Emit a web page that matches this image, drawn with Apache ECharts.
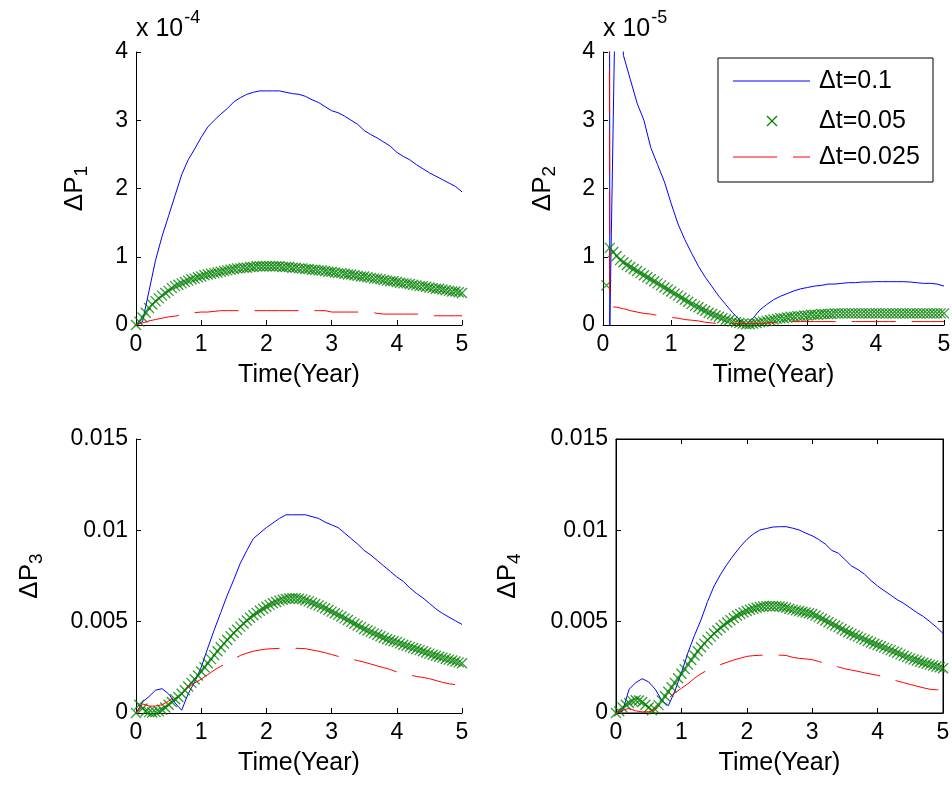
<!DOCTYPE html>
<html>
<head>
<meta charset="utf-8">
<script src="https://cdn.jsdelivr.net/npm/echarts@6/dist/echarts.min.js"></script>
<style>
  html, body { margin: 0; padding: 0; background: #fff; }
  #chart { width: 952px; height: 785px; }
</style>
</head>
<body>
<div id="chart"></div>
<script>
// Series names, colours and shared axis text
const seriesNames = ['\u0394t=0.1', '\u0394t=0.05', '\u0394t=0.025'];
const seriesColors = ['#0000ff', '#008000', '#ff0000'];
const xAxisTitle = 'Time(Year)';
const xTickValues = [0, 1, 2, 3, 4, 5];
const panelSubscripts = ['1', '2', '3', '4'];
const panelExponents = ['-4', '-5', null, null];

// Sampling steps (years) of each series
const stepBlue = 0.1;
const stepGreen = 0.05;
const stepRed = 0.1;

// dP1, units of 1e-4
const p1Blue = [0, 0.05, 0.50, 0.95, 1.30, 1.60, 1.90, 2.20, 2.42, 2.58,
  2.75, 2.90, 3.00, 3.09, 3.17, 3.27, 3.33, 3.38, 3.41, 3.43,
  3.43, 3.43, 3.43, 3.41, 3.39, 3.38, 3.35, 3.30, 3.26, 3.20,
  3.14, 3.11, 3.06, 3.00, 2.94, 2.85, 2.79, 2.74, 2.68, 2.62,
  2.53, 2.47, 2.42, 2.35, 2.29, 2.23, 2.18, 2.13, 2.08, 2.03, 1.95];
const p1Green = [0, 0.05, 0.11, 0.18, 0.25, 0.30, 0.35, 0.39, 0.43, 0.47,
  0.50, 0.54, 0.57, 0.59, 0.61, 0.63, 0.65, 0.67, 0.68, 0.70,
  0.71, 0.73, 0.74, 0.75, 0.76, 0.77, 0.78, 0.79, 0.80, 0.81,
  0.82, 0.83, 0.83, 0.84, 0.84, 0.85, 0.85, 0.86, 0.86, 0.86,
  0.86, 0.86, 0.86, 0.86, 0.86, 0.85, 0.85, 0.85, 0.84, 0.84,
  0.83, 0.83, 0.82, 0.82, 0.81, 0.81, 0.80, 0.80, 0.79, 0.78,
  0.78, 0.77, 0.76, 0.76, 0.75, 0.74, 0.74, 0.73, 0.72, 0.71,
  0.71, 0.70, 0.69, 0.68, 0.68, 0.67, 0.66, 0.65, 0.64, 0.64,
  0.63, 0.62, 0.61, 0.61, 0.60, 0.59, 0.58, 0.57, 0.57, 0.56,
  0.55, 0.54, 0.53, 0.53, 0.52, 0.51, 0.50, 0.49, 0.49, 0.48, 0.47];
const p1Red = [0, 0.03, 0.06, 0.08, 0.10, 0.12, 0.13, 0.15, 0.16, 0.18,
  0.19, 0.19, 0.20, 0.21, 0.21, 0.21, 0.21, 0.21, 0.21, 0.21,
  0.21, 0.21, 0.21, 0.21, 0.21, 0.21, 0.21, 0.21, 0.21, 0.21,
  0.19, 0.19, 0.19, 0.19, 0.19, 0.19, 0.19, 0.17, 0.16, 0.16,
  0.16, 0.16, 0.16, 0.16, 0.16, 0.135, 0.135, 0.135, 0.135, 0.135, 0.135];

// dP2, units of 1e-5 (the first samples lie far above the axis range)
const p2Blue = [150, 0, 6.0, 3.95, 3.6, 3.25, 3.0, 2.6, 2.35, 2.1,
  1.78, 1.48, 1.25, 1.05, 0.86, 0.70, 0.56, 0.42, 0.30, 0.18,
  0.08, 0.0, 0.10, 0.22, 0.30, 0.37, 0.42, 0.46, 0.50, 0.53,
  0.55, 0.57, 0.58, 0.60, 0.60, 0.61, 0.62, 0.62, 0.63, 0.63,
  0.635, 0.635, 0.635, 0.635, 0.635, 0.63, 0.62, 0.61, 0.61, 0.60, 0.57];
const p2Green = [80, 0.58, 1.13, 1.07, 1.01, 0.95, 0.92, 0.88, 0.85, 0.82,
  0.79, 0.76, 0.73, 0.70, 0.67, 0.64, 0.61, 0.58, 0.55, 0.52,
  0.49, 0.46, 0.43, 0.40, 0.37, 0.34, 0.31, 0.28, 0.26, 0.23,
  0.21, 0.18, 0.16, 0.14, 0.12, 0.10, 0.08, 0.07, 0.05, 0.04,
  0.03, 0.02, 0.01, 0.01, 0.02, 0.03, 0.04, 0.05, 0.06, 0.07,
  0.08, 0.09, 0.10, 0.10, 0.11, 0.12, 0.12, 0.13, 0.13, 0.14,
  0.14, 0.15, 0.15, 0.15, 0.16, 0.16, 0.16, 0.16, 0.17, 0.17,
  0.17, 0.17, 0.17, 0.17, 0.17, 0.17, 0.17, 0.17, 0.17, 0.17,
  0.17, 0.17, 0.17, 0.17, 0.17, 0.17, 0.17, 0.17, 0.17, 0.17,
  0.17, 0.17, 0.17, 0.17, 0.17, 0.17, 0.17, 0.17, 0.17, 0.17, 0.17];
const p2Red = [60, 0.27, 0.26, 0.24, 0.21, 0.19, 0.17, 0.16, 0.14, 0.12,
  0.11, 0.10, 0.08, 0.07, 0.06, 0.04, 0.03, 0.02, 0.02, 0.02,
  0.02, 0.02, 0.02, 0.02, 0.03, 0.035, 0.04, 0.045, 0.05, 0.05,
  0.05, 0.05, 0.05, 0.05, 0.05, 0.05, 0.05, 0.05, 0.05, 0.05,
  0.05, 0.05, 0.05, 0.05, 0.05, 0.05, 0.05, 0.05, 0.05, 0.05, 0.05];

// dP3, units of 1e-3
const p3Blue = [0, 0.6, 0.9, 1.25, 1.33, 1.05, 0.55, 0.15, 1.05, 1.70,
  2.50, 3.55, 4.55, 5.50, 6.45, 7.30, 8.20, 8.90, 9.55, 9.85,
  10.15, 10.40, 10.65, 10.85, 10.85, 10.85, 10.85, 10.75, 10.65, 10.45,
  10.30, 10.15, 9.85, 9.55, 9.25, 8.90, 8.65, 8.35, 8.05, 7.75,
  7.45, 7.20, 6.85, 6.55, 6.30, 6.00, 5.70, 5.45, 5.25, 5.05, 4.85];
const p3Green = [0, 0.45, 0.25, 0.10, 0.05, 0.03, 0.05, 0.10, 0.18, 0.30,
  0.45, 0.60, 0.75, 0.88, 1.05, 1.25, 1.45, 1.65, 1.85, 2.05,
  2.27, 2.50, 2.72, 2.95, 3.17, 3.38, 3.60, 3.80, 4.00, 4.20,
  4.38, 4.56, 4.73, 4.90, 5.06, 5.21, 5.35, 5.48, 5.60, 5.71,
  5.82, 5.92, 6.01, 6.08, 6.15, 6.20, 6.24, 6.27, 6.28, 6.28,
  6.25, 6.22, 6.17, 6.11, 6.04, 5.97, 5.89, 5.81, 5.73, 5.64,
  5.55, 5.46, 5.37, 5.28, 5.18, 5.09, 4.99, 4.89, 4.79, 4.70,
  4.60, 4.52, 4.44, 4.36, 4.28, 4.20, 4.12, 4.04, 3.98, 3.93,
  3.88, 3.81, 3.74, 3.68, 3.62, 3.56, 3.50, 3.44, 3.38, 3.31,
  3.25, 3.19, 3.13, 3.08, 3.03, 2.97, 2.92, 2.87, 2.82, 2.77, 2.72];
const p3Red = [0, 0.5, 0.38, 0.38, 0.45, 0.65, 0.9, 1.15, 1.4, 1.65,
  1.85, 2.1, 2.35, 2.55, 2.75, 2.95, 3.15, 3.28, 3.38, 3.45,
  3.5, 3.52, 3.54, 3.54, 3.54, 3.54, 3.52, 3.45, 3.38, 3.3,
  3.2, 3.1, 3.02, 2.95, 2.87, 2.78, 2.68, 2.58, 2.48, 2.38,
  2.25, 2.15, 2.08, 2.0, 1.95, 1.88, 1.78, 1.68, 1.6, 1.55, 1.48];

// dP4, units of 1e-3
const p4Blue = [0, 0.1, 1.3, 1.65, 1.88, 1.7, 1.3, 0.7, 0.4, 1.2,
  2.2, 3.3, 4.25, 5.1, 6.1, 6.95, 7.6, 8.15, 8.65, 9.1,
  9.5, 9.8, 10.02, 10.1, 10.18, 10.2, 10.2, 10.12, 10.02, 9.85,
  9.7, 9.5, 9.25, 8.9, 8.75, 8.4, 8.05, 7.85, 7.6, 7.25,
  6.95, 6.7, 6.45, 6.2, 6.0, 5.75, 5.5, 5.28, 5.0, 4.7, 4.36];
const p4Green = [0, 0.1, 0.3, 0.45, 0.55, 0.65, 0.7, 0.68, 0.6, 0.45,
  0.3, 0.15, 0.2, 0.43, 0.68, 0.92, 1.16, 1.41, 1.65, 1.9,
  2.15, 2.4, 2.65, 2.9, 3.15, 3.38, 3.6, 3.8, 4.0, 4.18,
  4.35, 4.52, 4.67, 4.82, 4.95, 5.08, 5.2, 5.32, 5.42, 5.5,
  5.58, 5.65, 5.71, 5.76, 5.8, 5.83, 5.85, 5.86, 5.86, 5.85,
  5.83, 5.8, 5.76, 5.71, 5.66, 5.62, 5.58, 5.54, 5.5, 5.46,
  5.42, 5.34, 5.25, 5.16, 5.06, 4.97, 4.88, 4.79, 4.7, 4.6,
  4.5, 4.42, 4.34, 4.26, 4.18, 4.1, 4.02, 3.94, 3.86, 3.79,
  3.72, 3.65, 3.58, 3.51, 3.44, 3.37, 3.3, 3.21, 3.13, 3.06,
  2.99, 2.93, 2.87, 2.81, 2.75, 2.7, 2.65, 2.6, 2.55, 2.5, 2.45];
const p4Red = [0, 0.15, 0.25, 0.12, 0.06, 0.07, 0.2, 0.45, 0.8, 1.1,
  1.35, 1.6, 1.9, 2.15, 2.35, 2.5, 2.65, 2.78, 2.9, 3.0,
  3.1, 3.14, 3.16, 3.17, 3.17, 3.17, 3.15, 3.05, 2.99, 2.96,
  2.92, 2.82, 2.72, 2.62, 2.52, 2.42, 2.35, 2.28, 2.2, 2.13,
  2.06, 1.98, 1.88, 1.75, 1.66, 1.56, 1.47, 1.38, 1.3, 1.27, 1.26];

const FONT = 'Liberation Sans, Arial, Helvetica, sans-serif';

// Panel layout (pixels) and y-axis scale of each subplot
const panels = [
  { left: 136, top: 52, width: 326, height: 273, yMax: 4, yStep: 1, scale: 1, nameGap: 45, box: false,
    data: [p1Blue, p1Green, p1Red] },
  { left: 603, top: 52, width: 341, height: 273, yMax: 4, yStep: 1, scale: 1, nameGap: 44, box: false,
    data: [p2Blue, p2Green, p2Red] },
  { left: 136, top: 439, width: 326, height: 274, yMax: 15, yStep: 5, scale: 1000, nameGap: 90, box: false,
    data: [p3Blue, p3Green, p3Red] },
  { left: 616, top: 439, width: 327, height: 274, yMax: 15, yStep: 5, scale: 1000, nameGap: 92, box: true,
    data: [p4Blue, p4Green, p4Red] }
];

function toPairs(step, values) {
  return values.map((v, i) => [Math.round(i * step * 1000) / 1000, v]);
}

const grids = [], xAxes = [], yAxes = [], series = [];
const tickStyle = { inside: true, length: 5, lineStyle: { color: '#000', width: 1 } };
const lineStyleAxis = { onZero: false, lineStyle: { color: '#000', width: 1 } };

panels.forEach((p, i) => {
  grids.push({
    left: p.left, top: p.top, width: p.width, height: p.height,
    show: p.box, borderColor: '#000', borderWidth: 1, backgroundColor: 'transparent',
    outerBoundsMode: 'none', containLabel: false
  });
  xAxes.push({
    gridIndex: i, type: 'value', min: 0, max: 5, interval: 1,
    axisLine: lineStyleAxis, axisTick: tickStyle, splitLine: { show: false },
    axisLabel: { color: '#000', fontFamily: FONT, fontSize: 23, margin: 8,
      formatter: v => (xTickValues.indexOf(v) >= 0 ? String(v) : '') },
    name: xAxisTitle, nameLocation: 'middle', nameGap: 38, nameMoveOverlap: false,
    nameTextStyle: { color: '#000', fontFamily: FONT, fontSize: 25 }
  });
  yAxes.push({
    gridIndex: i, type: 'value', min: 0, max: p.yMax, interval: p.yStep,
    axisLine: lineStyleAxis, axisTick: tickStyle, splitLine: { show: false },
    axisLabel: { color: '#000', fontFamily: FONT, fontSize: 23, margin: 8,
      formatter: v => String(v / p.scale) },
    name: '{a|\u0394P}{b|' + panelSubscripts[i] + '}',
    nameLocation: 'middle', nameRotate: 90, nameGap: p.nameGap, nameMoveOverlap: false,
    nameTextStyle: {
      color: '#000',
      rich: {
        a: { fontFamily: FONT, fontSize: 26, color: '#000' },
        b: { fontFamily: FONT, fontSize: 19, color: '#000', padding: [14, 0, 0, 0] }
      }
    }
  });
  const steps = [stepBlue, stepGreen, stepRed];
  p.data.forEach((vals, k) => {
    const common = {
      name: seriesNames[k], xAxisIndex: i, yAxisIndex: i, clip: true,
      data: toPairs(steps[k], vals), silent: true, animation: false, z: 2 + k
    };
    if (k === 1) {
      series.push(Object.assign(common, {
        type: 'scatter',
        symbol: 'path://M0,0L10,10M0,10L10,0',
        symbolSize: 10,
        itemStyle: { color: 'transparent', borderColor: seriesColors[k], borderWidth: 1.3 }
      }));
    } else {
      series.push(Object.assign(common, {
        type: 'line', symbol: 'none', showSymbol: false,
        lineStyle: { color: seriesColors[k], width: 1, type: k === 2 ? [44, 16] : 'solid' }
      }));
    }
  });
});

// Ticks along the top and right edges of the boxed subplot
xAxes.push({
  gridIndex: 3, type: 'value', position: 'top', min: 0, max: 5, interval: 1,
  axisLine: lineStyleAxis, axisTick: tickStyle, axisLabel: { show: false }, splitLine: { show: false }
});
yAxes.push({
  gridIndex: 3, type: 'value', position: 'right', min: 0, max: 15, interval: 5,
  axisLine: lineStyleAxis, axisTick: tickStyle, axisLabel: { show: false }, splitLine: { show: false }
});

// Exponent notes above the first two panels, and the legend box
const graphics = [];
panels.forEach((p, i) => {
  if (!panelExponents[i]) return;
  graphics.push({
    type: 'text', x: p.left, y: p.top - 23, silent: true,
    style: {
      text: '{a|x 10}{b|' + panelExponents[i] + '}',
      verticalAlign: 'middle',
      rich: {
        a: { fontFamily: FONT, fontSize: 25, fill: '#000' },
        b: { fontFamily: FONT, fontSize: 18, fill: '#000', padding: [0, 0, 22, 1] }
      }
    }
  });
});

const legendBox = { x: 718, y: 58, width: 215, height: 124 };
const legendRowY = [81, 121, 157];
graphics.push({
  type: 'rect', silent: true, z: 10,
  shape: legendBox,
  style: { fill: '#fff', stroke: '#000', lineWidth: 1 }
});
seriesNames.forEach((name, k) => {
  const y = legendRowY[k];
  if (k === 1) {
    graphics.push({ type: 'line', silent: true, z: 11,
      shape: { x1: 767, y1: y - 5, x2: 777, y2: y + 5 }, style: { stroke: seriesColors[k], lineWidth: 1.2 } });
    graphics.push({ type: 'line', silent: true, z: 11,
      shape: { x1: 767, y1: y + 5, x2: 777, y2: y - 5 }, style: { stroke: seriesColors[k], lineWidth: 1.2 } });
  } else {
    graphics.push({ type: 'line', silent: true, z: 11,
      shape: { x1: 733, y1: y, x2: 810, y2: y },
      style: { stroke: seriesColors[k], lineWidth: 1, lineDash: k === 2 ? [44, 16] : null } });
  }
  graphics.push({ type: 'text', silent: true, z: 11, x: 819, y: y,
    style: { text: name, fontFamily: FONT, fontSize: 25, fill: '#000', verticalAlign: 'middle' } });
});

const chart = echarts.init(document.getElementById('chart'), null, { renderer: 'canvas' });
chart.setOption({
  backgroundColor: '#ffffff',
  animation: false,
  grid: grids,
  xAxis: xAxes,
  yAxis: yAxes,
  series: series,
  graphic: graphics
});
</script>
</body>
</html>
